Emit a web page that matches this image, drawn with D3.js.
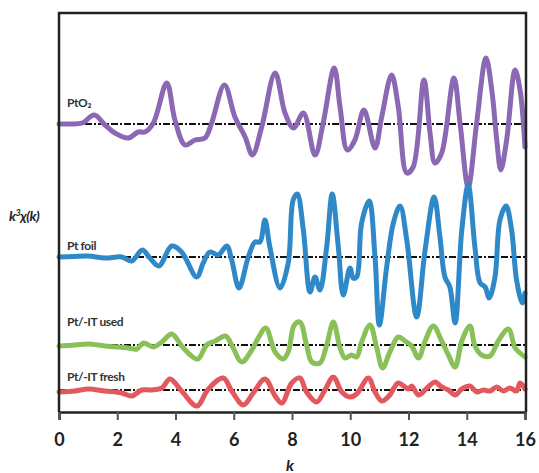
<!DOCTYPE html>
<html>
<head>
<meta charset="utf-8">
<script src="https://cdn.jsdelivr.net/npm/d3@7"></script>
<style>
  body { margin: 0; background: #fff; }
</style>
</head>
<body>
<div id="div_canvas"></div>
<script>
// k^3 chi(k) traces (values relative to each baseline)
var kPtO2 = [0,0.4,0.8,1.21,1.58,1.92,2.38,2.72,2.95,3.24,3.70,3.98,4.33,4.67,5.01,5.24,5.68,6.04,6.39,6.64,6.96,7.42,7.76,8.05,8.39,8.79,9.07,9.45,9.65,9.90,10.16,10.47,10.85,11.08,11.42,11.65,11.94,12.16,12.53,12.74,12.91,13.14,13.56,13.77,14.05,14.34,14.66,14.86,15.03,15.17,15.37,15.66,15.83,16];
var chiPtO2 = [0,0,0.1,0.9,-0.1,-0.9,-1.4,-0.8,-0.8,0.1,4.1,0.4,-2.1,-1.6,-1.4,0.1,3.9,0.7,-1.3,-3.1,-0.3,5.1,1.1,-0.4,1.1,-3.1,0.1,5.6,1.7,-2.6,-1.6,1.4,-2.4,0.7,4.9,1.7,-4.9,-4.3,4.4,-0.9,-3.9,-2.9,4.6,0.1,-6.3,0.1,6.6,3.4,-1.6,-4.6,-1.6,5.4,3.4,-2.3];

var kFoil = [0,0.5,1.0,1.58,2.15,2.5,2.86,3.12,3.43,3.87,4.21,4.73,4.95,5.18,5.47,5.76,5.93,6.18,6.5,6.73,6.9,7.07,7.24,7.59,7.87,8.04,8.18,8.39,8.62,8.79,8.96,9.19,9.38,9.59,9.76,9.99,10.1,10.22,10.39,10.65,10.85,11.0,11.25,11.48,11.71,11.94,12.28,12.57,12.88,13.08,13.25,13.42,13.6,13.83,14.05,14.28,14.46,14.63,14.77,14.97,15.14,15.35,15.54,15.71,15.91,16];
var chiFoil = [0,0.05,0.1,-0.1,0,-0.4,0.7,-0.1,-0.9,1.1,0.5,-2.0,-0.6,0.5,0.2,1.1,-0.3,-3.1,0,1.5,1.5,3.7,1.0,-3.1,-0.6,5.7,6.3,2.7,-3.5,-2.0,-3.3,1.0,6.3,1.0,-3.8,-1.1,-2.1,-2.0,3.4,5.6,0,-6.8,-1.0,3.4,5.1,1.7,-6.0,0.7,6.0,2.0,-2.0,-3.0,-6.6,2.7,7.2,1.0,-2.6,-3.0,-4.1,-2.0,3.7,5.1,2.7,-2.3,-4.6,-3.6];

var kUsed = [0,0.55,1.0,1.58,2.38,2.67,2.9,3.24,3.53,3.87,4.27,4.76,5.07,5.36,5.72,5.98,6.27,6.62,6.84,7.1,7.42,7.70,7.87,8.08,8.27,8.5,8.68,8.96,9.19,9.42,9.65,9.82,10.05,10.22,10.39,10.68,10.91,11.11,11.36,11.65,11.88,12.11,12.34,12.57,12.85,13.14,13.37,13.60,13.83,14.11,14.28,14.51,14.8,15.08,15.43,15.66,15.83,16];
var chiUsed = [-0.1,0,0.1,-0.1,-0.3,-0.4,0.2,-0.2,0.3,1.1,-0.3,-1.4,0,0.4,0.9,-0.3,-1.7,-0.5,0.7,1.7,-0.7,-1.4,-0.7,2.0,2.3,0,-1.7,-1.8,0,2.3,-0.3,-1.3,-1.0,-1.2,0.3,2.0,-0.3,-2.3,-0.7,0.8,0.4,-0.1,-1.3,0.4,1.9,0.4,-1.0,-2.2,0.4,1.9,-0.1,-1.0,-1.1,0.4,1.6,-0.3,-0.8,-1.2];

var kFresh = [0,0.55,1.0,1.58,2.15,2.5,2.84,3.18,3.53,3.81,4.21,4.73,5.13,5.64,5.93,6.33,6.67,7.07,7.42,7.65,7.99,8.27,8.5,8.85,9.13,9.42,9.71,9.99,10.22,10.62,10.85,11.08,11.36,11.5,11.65,11.88,12.0,12.11,12.34,12.57,12.75,12.91,13.14,13.37,13.6,13.83,14.11,14.34,14.57,14.8,15.03,15.26,15.48,15.71,15.83,16];
var chiFresh = [-0.2,-0.1,0.1,-0.1,-0.3,-0.6,0,0,0.2,1.1,-0.1,-1.6,0.1,1.2,-0.1,-1.5,-0.3,1.1,-0.6,-1.3,0.7,1.2,-0.2,-1.2,0,1.3,-0.2,-0.7,-0.4,1.2,-0.2,-1.1,-0.5,0.2,0.7,0.3,0.1,0.4,-0.5,0,0.5,0.8,0.3,0,-0.5,0.1,0.4,-0.2,0,-0.1,0.3,-0.1,0.2,-0.1,0.7,0.1];

var seriesNames = ["PtO\u2082", "Pt foil", "Pt/-IT used", "Pt/-IT fresh"];
var offsets = [20.8, 7.5, -1.3, -5.8];
var colors = ["#8a68b3", "#2f89c9", "#89c058", "#e2585c"];
var xTicks = [0, 2, 4, 6, 8, 10, 12, 14, 16];

var series = [
    { k: kPtO2, chi: chiPtO2 },
    { k: kFoil, chi: chiFoil },
    { k: kUsed, chi: chiUsed },
    { k: kFresh, chi: chiFresh }
];
series.forEach(function (s, i) {
    s.name = seriesNames[i];
    s.offset = offsets[i];
    s.color = colors[i];
    s.points = s.k.map(function (k, j) { return { k: k, v: s.chi[j] + offsets[i] }; });
});

var margin = { left: 59, right: 14, top: 13, bottom: 61 };
var width = 539 - margin.left - margin.right;
var height = 473 - margin.top - margin.bottom;

var svg = d3.select("#div_canvas").append("svg")
    .attr("width", 539)
    .attr("height", 473);

var g = svg.append("g")
    .attr("transform", "translate(" + margin.left + "," + margin.top + ")");

// Scales
var x = d3.scaleLinear().domain([0, 16]).range([0, width]);
var y = d3.scaleLinear().domain([-8, 31.9]).range([height, 0]);

// Baselines
g.selectAll(".base").data(series).enter().append("line")
    .attr("class", "base")
    .attr("x1", x(0)).attr("x2", x(16))
    .attr("y1", function (d) { return y(d.offset); })
    .attr("y2", function (d) { return y(d.offset); })
    .attr("stroke", "#111")
    .attr("stroke-width", 2.2)
    .attr("stroke-dasharray", "7,2,2,2");

// Traces
var line = d3.line()
    .x(function (d) { return x(d.k); })
    .y(function (d) { return y(d.v); })
    .curve(d3.curveCatmullRom.alpha(0.5));

g.selectAll(".trace").data(series).enter().append("path")
    .attr("class", "trace")
    .attr("d", function (d) { return line(d.points); })
    .attr("fill", "none")
    .attr("stroke", function (d) { return d.color; })
    .attr("stroke-width", 5)
    .attr("stroke-linejoin", "round")
    .attr("stroke-linecap", "round");

// Series labels
var labelY = [107, 250, 326, 381];
g.selectAll(".lab").data(series).enter().append("text")
    .attr("class", "lab")
    .attr("x", 8)
    .attr("y", function (d, i) { return labelY[i] - margin.top; })
    .attr("font-family", "Lato, sans-serif")
    .attr("font-weight", "bold")
    .attr("font-size", 12)
    .attr("letter-spacing", -0.4)
    .attr("fill", "#333")
    .text(function (d) { return d.name; });

// Frame
g.append("path")
    .attr("d", "M0," + height + "V0H" + (width + 1) + "V" + height)
    .attr("fill", "none")
    .attr("stroke", "#222")
    .attr("stroke-width", 2.5);

// X axis
var xAxis = d3.axisBottom(x).tickValues(xTicks).tickSize(8).tickPadding(13);
var ax = g.append("g").attr("class", "x axis")
    .attr("transform", "translate(0," + height + ")")
    .call(xAxis);
ax.select(".domain").attr("stroke", "#222").attr("stroke-width", 2.5);
ax.selectAll(".tick line").attr("stroke", "#555").attr("stroke-width", 2);
ax.selectAll("text")
    .attr("font-family", "Lato, sans-serif")
    .attr("font-weight", "bold")
    .attr("font-size", 18)
    .attr("fill", "#222");

// Axis titles
svg.append("text")
    .attr("x", 290).attr("y", 471)
    .attr("text-anchor", "middle")
    .attr("font-family", "Lato, sans-serif")
    .attr("font-weight", "bold")
    .attr("font-style", "italic")
    .attr("font-size", 16)
    .attr("fill", "#222")
    .text("k");

var yt = svg.append("text")
    .attr("x", 9).attr("y", 221)
    .attr("font-family", "Lato, sans-serif")
    .attr("font-weight", "bold")
    .attr("font-style", "italic")
    .attr("font-size", 14)
    .attr("letter-spacing", -0.5)
    .attr("fill", "#222");
yt.append("tspan").text("k");
yt.append("tspan").attr("dy", -5).attr("font-size", 9).text("3");
yt.append("tspan").attr("dy", 5).text("\u03c7(k)");
</script>
</body>
</html>
